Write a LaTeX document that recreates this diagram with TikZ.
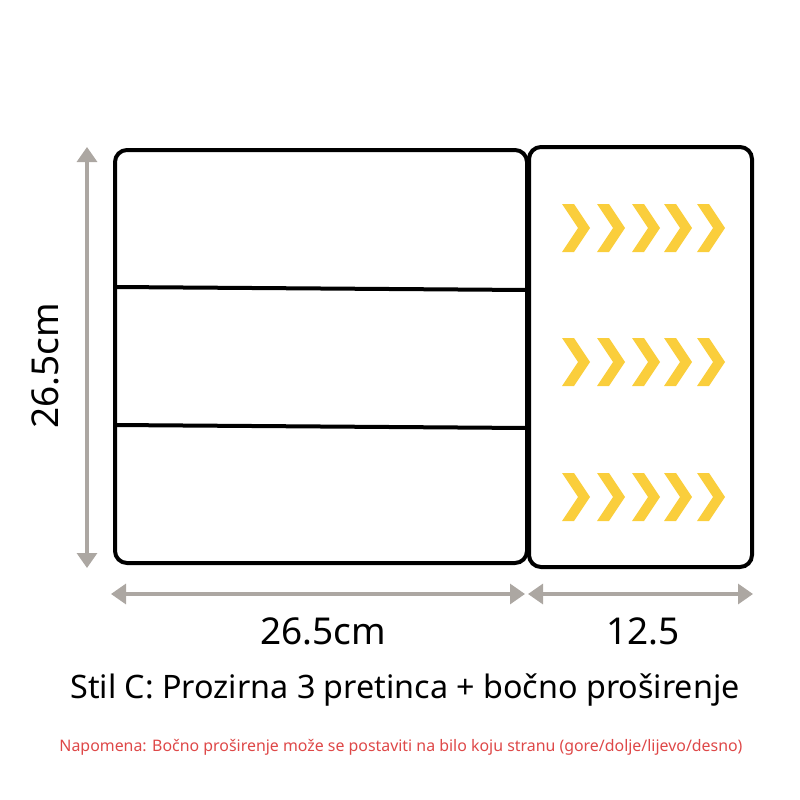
\documentclass[tikz,border=0pt]{standalone}
\usepackage{fontspec}
\setmainfont{Noto Sans}
\usetikzlibrary{arrows.meta}
\definecolor{dimgray}{RGB}{172,167,162}
\definecolor{chevyellow}{RGB}{250,206,60}
\definecolor{notered}{RGB}{222,72,72}

\begin{document}
\begin{tikzpicture}[
    x=1pt, y=-1pt,
    trayline/.style={draw=black, line width=4pt, rounded corners=12pt},
    divider/.style={draw=black, line width=4pt},
    dimline/.style={draw=dimgray, line width=3.2pt, {Triangle[width=20pt,length=15pt]}-{Triangle[width=20pt,length=15pt]}},
    chevron/.style={fill=chevyellow, draw=none},
    dimlabel/.style={font=\fontsize{37}{40}\selectfont},
    ]
    \useasboundingbox (0,0) rectangle (800,800);
    % compartments
    \draw[trayline] (115,150) rectangle (527,563);
    \draw[trayline] (529,147) rectangle (752,567);
    \draw[divider] (115,287) -- (527,290);
    \draw[divider] (115,425) -- (527,428);
    % side extension arrows
    \foreach \y in {228,362,497}
        \foreach \x in {562,597,632,664,697}
            \fill[chevron] (\x,\y-24) -- ++(12,0) -- (\x+28,\y) -- (\x+12,\y+24) -- (\x,\y+24) -- (\x+16,\y) -- cycle;
    % dimensions
    \coordinate (htop) at (87,147);
    \coordinate (hbot) at (87,568);
    \coordinate (wleft) at (111,594);
    \coordinate (wmid) at (525,594);
    \coordinate (xleft) at (528,594);
    \coordinate (xright) at (753,594);
    \draw[dimline] (htop) -- (hbot);
    \draw[dimline] (wleft) -- (wmid);
    \draw[dimline] (xleft) -- (xright);
    \node[dimlabel, rotate=90] (hlabel) at (45,366) {26.5cm};
    \node[dimlabel] (wlabel) at (323,631) {26.5cm};
    \node[dimlabel] (xlabel) at (643,631) {12.5};
    % captions
    \node[font=\fontsize{32.3}{34}\selectfont] (caption) at (405,690) {Stil C: Prozirna 3 pretinca + bočno proširenje};
    \node[font=\fontsize{15.9}{17}\selectfont, text=notered] (note) at (401,747) {Napomena: Bočno proširenje može se postaviti na bilo koju stranu (gore/dolje/lijevo/desno)};
\end{tikzpicture}
\end{document}
